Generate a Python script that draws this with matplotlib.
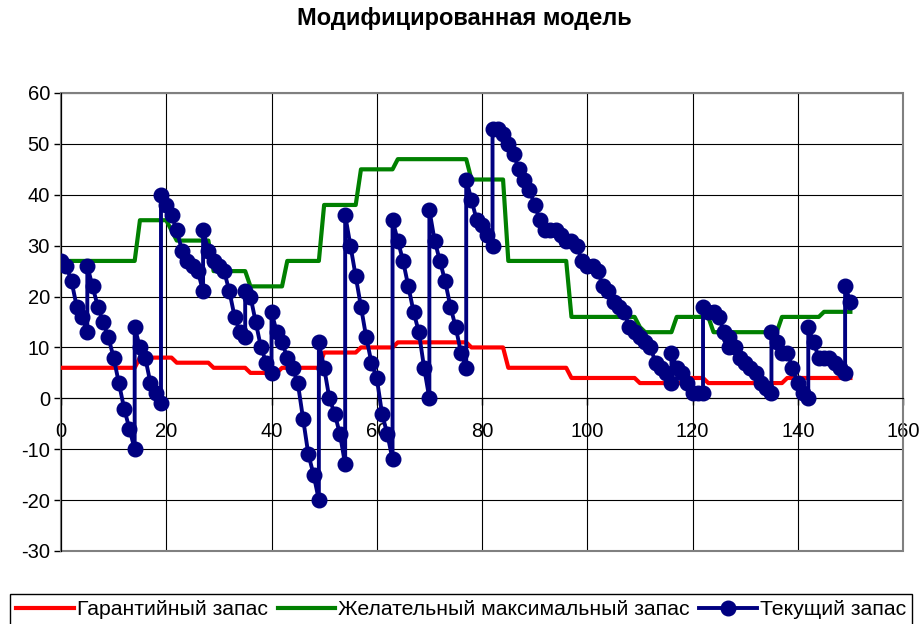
import matplotlib.pyplot as plt
import numpy as np
from matplotlib.patches import Rectangle

plt.rcParams['font.family'] = ['Liberation Sans', 'DejaVu Sans']
plt.rcParams['axes.unicode_minus'] = False

# Data ------------------------------------------------------------------------
# Гарантийный запас: level and how many days it holds (days 0..150)
safety_levels = [6, 8, 7, 6, 5, 6, 9, 10, 11, 10, 6, 4, 3, 4, 3, 4]
safety_days = [15, 7, 7, 7, 6, 8, 7, 7, 14, 7, 12, 13, 9, 4, 15, 13]

# Желательный максимальный запас
max_levels = [27, 35, 33, 31, 25, 22, 27, 38, 45, 47, 43, 27, 16, 14, 13, 16, 13, 16, 17]
max_days = [15, 6, 1, 7, 7, 7, 7, 7, 7, 14, 7, 12, 13, 1, 6, 7, 13, 8, 6]

# Текущий запас: each run starts on a delivery day
delivery_days = [0, 5, 14, 19, 27, 35, 40, 49, 54, 63, 70, 77, 82, 116, 122, 127, 135, 142, 149]
stock_runs = [
    [27, 26, 23, 18, 16, 13],
    [26, 22, 18, 15, 12, 8, 3, -2, -6, -10],
    [14, 10, 8, 3, 1, -1],
    [40, 38, 36, 33, 29, 27, 26, 25, 21],
    [33, 29, 27, 26, 25, 21, 16, 13, 12],
    [21, 20, 15, 10, 7, 5],
    [17, 13, 11, 8, 6, 3, -4, -11, -15, -20],
    [11, 6, 0, -3, -7, -13],
    [36, 30, 24, 18, 12, 7, 4, -3, -7, -12],
    [35, 31, 27, 22, 17, 13, 6, 0],
    [37, 31, 27, 23, 18, 14, 9, 6],
    [43, 39, 35, 34, 32, 30],
    [53, 53, 52, 50, 48, 45, 43, 41, 38, 35, 33, 33, 33, 32, 31, 31, 30, 27,
     26, 26, 25, 22, 21, 19, 18, 17, 14, 13, 12, 11, 10, 7, 6, 5, 3],
    [9, 6, 5, 3, 1, 1, 1],
    [18, 17, 17, 16, 13, 10],
    [12, 10, 8, 7, 6, 5, 3, 2, 1],
    [13, 11, 9, 9, 6, 3, 1, 0],
    [14, 11, 8, 8, 8, 7, 6, 5],
    [22, 19],
]

labels = ['Гарантийный запас', 'Желательный максимальный запас', 'Текущий запас']

# Build series ----------------------------------------------------------------
safety = np.repeat(safety_levels, safety_days)
max_stock = np.repeat(max_levels, max_days)
days = np.arange(len(safety))

stock_x = np.concatenate([np.arange(d, d + len(r)) for d, r in zip(delivery_days, stock_runs)])
stock_y = np.concatenate(stock_runs)

# Plot ------------------------------------------------------------------------
fig = plt.figure(figsize=(9.22, 6.24), dpi=100)
ax = fig.add_axes([61 / 922, 1 - 551 / 624, 842 / 922, 458 / 624])

ax.plot(days, safety, color='#FF0000', lw=3, label=labels[0], zorder=3)
ax.plot(days, max_stock, color='#008000', lw=3, label=labels[1], zorder=3)
ax.plot(stock_x, stock_y, color='#000080', lw=2.8, marker='o', ms=10.5,
        label=labels[2], zorder=4)

ax.set_xlim(0, 160)
ax.set_ylim(-30, 60)
ax.set_xticks(range(0, 161, 20))
ax.set_yticks(range(-30, 61, 10))
ax.grid(True, color='black', lw=0.8, zorder=1)

for s in ['top', 'right']:
    ax.spines[s].set_visible(False)
ax.spines['bottom'].set_position(('data', 0))
ax.spines['bottom'].set_color('black')
ax.spines['left'].set_color('black')
ax.add_patch(Rectangle((0, 0), 1, 1, transform=ax.transAxes, fill=False,
                       edgecolor='#808080', lw=1.5, zorder=2, clip_on=False))
ax.tick_params(direction='out', length=5, width=1, labelsize=14.5, pad=3)
ax.tick_params(axis='x', pad=12)

fig.suptitle('Модифицированная модель', fontsize=17, fontweight='bold',
             x=464 / 922, y=1 - 18 / 624, va='center')

leg = fig.legend(loc='upper left', bbox_to_anchor=(10 / 922, 1 - 594 / 624),
                 ncol=3, fancybox=False, edgecolor='black', framealpha=1,
                 borderaxespad=0, borderpad=0.3, handlelength=2.7,
                 handletextpad=0.15, columnspacing=0.45, fontsize=15.3)
leg.get_frame().set_linewidth(1)

plt.savefig('out.png', dpi=100)
